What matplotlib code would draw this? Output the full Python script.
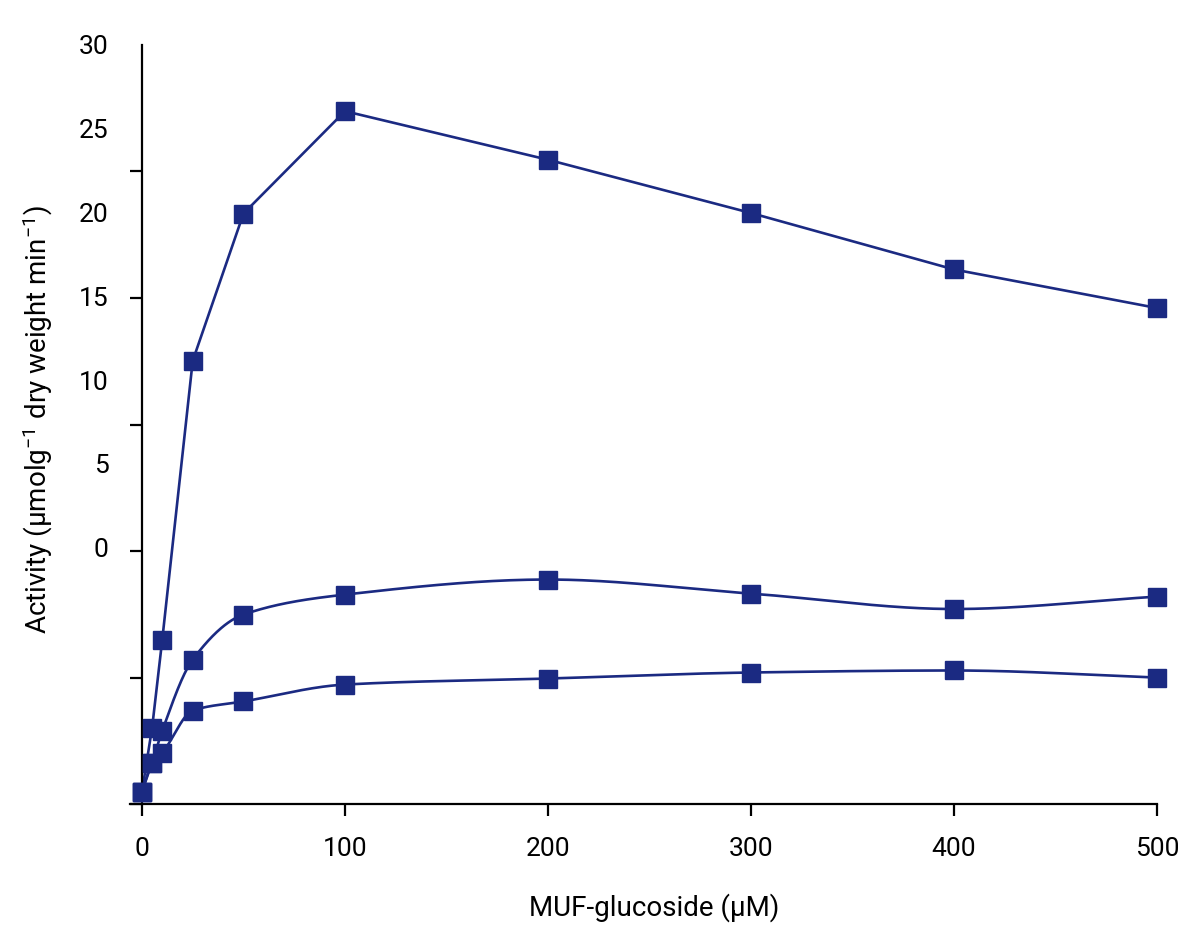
import numpy as np
import matplotlib.pyplot as plt

plt.rcParams['font.family'] = ['Roboto', 'DejaVu Sans']
plt.rcParams['mathtext.fontset'] = 'custom'
plt.rcParams['mathtext.rm'] = 'Roboto'
plt.rcParams['mathtext.default'] = 'regular'

# MUF-glucoside concentration (uM)
conc = [0, 5, 10, 25, 50, 100, 200, 300, 400, 500]
act_high = [-14.57, -10.75, -5.49, 11.15, 19.94, 26.05, 23.15, 19.97, 16.6, 14.3]
act_mid = [-14.57, -12.84, -10.93, -6.69, -4.0, -2.81, -1.91, -2.75, -3.67, -2.93]
act_low = [-14.57, -12.84, -12.24, -9.73, -9.19, -8.18, -7.82, -7.46, -7.34, -7.76]

xticks = [0, 100, 200, 300, 400, 500]
ylabels = ['30', '25', '20', '15', '10', '5', '0']
ylabel_vals = [30, 25, 20, 15, 10, 5, 0]

COLOR = '#1b2a82'


def pchip(x, y):
    # monotone cubic through the points, used only to draw the smooth line
    x = np.asarray(x, float)
    y = np.asarray(y, float)
    h = np.diff(x)
    d = np.diff(y) / h
    m = np.zeros_like(y)
    for k in range(1, len(x) - 1):
        if d[k - 1] * d[k] > 0:
            w1 = 2 * h[k] + h[k - 1]
            w2 = h[k] + 2 * h[k - 1]
            m[k] = (w1 + w2) / (w1 / d[k - 1] + w2 / d[k])
    m[0] = d[0]
    m[-1] = d[-1]
    xs, ys = [], []
    for k in range(len(x) - 1):
        t = np.linspace(0, 1, 60)
        h00 = 2 * t**3 - 3 * t**2 + 1
        h10 = t**3 - 2 * t**2 + t
        h01 = -2 * t**3 + 3 * t**2
        h11 = t**3 - t**2
        xs.append(x[k] + t * h[k])
        ys.append(h00 * y[k] + h10 * h[k] * m[k] + h01 * y[k + 1] + h11 * h[k] * m[k + 1])
    return np.concatenate(xs), np.concatenate(ys)


fig = plt.figure(figsize=(12, 9.51), dpi=100)
ax = fig.add_axes([130 / 1200, 1 - 804 / 951, 1027 / 1200, 759 / 951])

ymin = -15.31
ax.set_xlim(-5.9, 500)
ax.set_ylim(ymin, 30)

ax.plot(conc, act_high, color=COLOR, lw=1.9, clip_on=False)
for series in (act_mid, act_low):
    sx, sy = pchip(conc, series)
    ax.plot(sx, sy, color=COLOR, lw=1.9, clip_on=False)
for series in (act_high, act_mid, act_low):
    ax.plot(conc, series, ls='none', marker='s', ms=12.3, color=COLOR,
            clip_on=False, zorder=3)

for s in ['top', 'right']:
    ax.spines[s].set_visible(False)
ax.spines['left'].set_position(('data', 0))
ax.spines['left'].set_linewidth(1.6)
ax.spines['bottom'].set_linewidth(1.6)

ax.set_xticks(xticks)
ax.set_xticklabels([str(v) for v in xticks])
ax.tick_params(axis='x', direction='out', length=8.5, width=1.6, pad=15,
               labelsize=19)

ax.set_yticks(ylabel_vals)
ax.set_yticklabels(ylabels)
ax.set_yticks(np.linspace(30, ymin, 7), minor=True)
ax.tick_params(axis='y', which='major', length=0, pad=24, labelsize=19)
ax.tick_params(axis='y', which='minor', direction='out', length=8.5, width=1.6)

fig.text(654 / 1200, 1 - 908 / 951, 'MUF-glucoside (µM)', ha='center',
         va='center', fontsize=20)
fig.text(38 / 1200, 1 - 420 / 951,
         r'Activity (µmolg$^{-1}$ dry weight min$^{-1}$)', ha='center',
         va='center', rotation=90, fontsize=20)

fig.savefig('out.png', dpi=100)
